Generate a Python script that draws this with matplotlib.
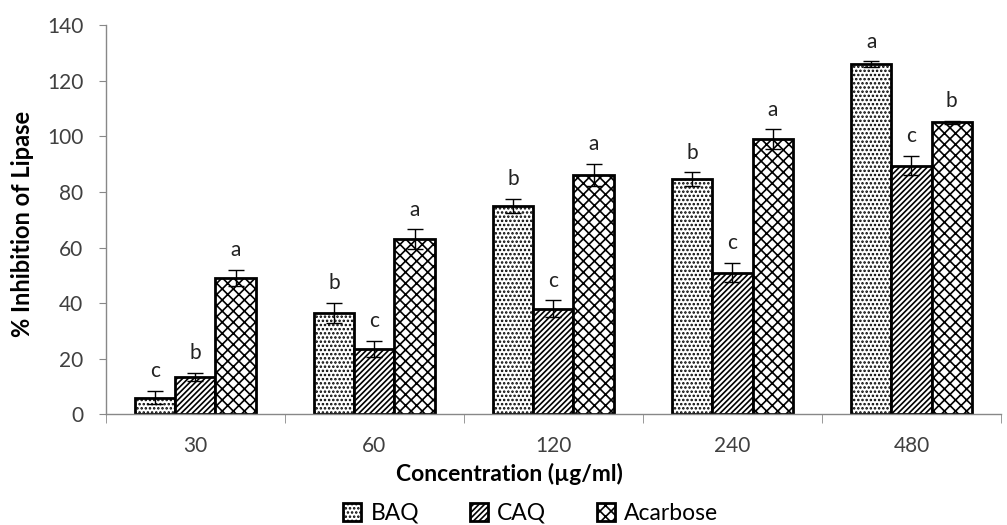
import numpy as np
import matplotlib
matplotlib.use("Agg")
from matplotlib import pyplot as plt

plt.rcParams['font.family'] = ['Lato', 'DejaVu Sans']
plt.rcParams['hatch.linewidth'] = 1.2

# data
concentrations = ['30', '60', '120', '240', '480']
series_names = ['BAQ', 'CAQ', 'Acarbose']
baq = [6, 36.5, 75, 84.5, 126]
caq = [13.5, 23.5, 38, 51, 89.5]
acarbose = [49, 63, 86, 99, 105]
baq_err = [2.5, 3.5, 2.5, 2.5, 1]
caq_err = [1.5, 3, 3, 3.5, 3.5]
acarbose_err = [3, 3.5, 4, 3.5, 0.5]
baq_letters = ['c', 'b', 'b', 'b', 'a']
caq_letters = ['b', 'c', 'c', 'c', 'c']
acarbose_letters = ['a', 'a', 'a', 'a', 'b']

values = [baq, caq, acarbose]
errors = [baq_err, caq_err, acarbose_err]
letters = [baq_letters, caq_letters, acarbose_letters]
hatches = ['....', '//////', 'xxx']

fig = plt.figure(figsize=(10.07, 5.25), dpi=100)
ax = fig.add_axes([0.105, 0.211, 0.889, 0.741])

x = np.arange(len(concentrations))
w = 0.225
for i in range(3):
    pos = x + (i - 1) * w
    ax.bar(pos, values[i], w, color='white', edgecolor='black', linewidth=2,
           hatch=hatches[i], label=series_names[i], zorder=2)
    ax.errorbar(pos, values[i], yerr=errors[i], fmt='none', ecolor='black',
                elinewidth=1, capsize=6, capthick=1, zorder=3)
    for j in range(len(concentrations)):
        ax.annotate(letters[i][j], (pos[j], values[i][j] + errors[i][j]),
                    xytext=(0, 7), textcoords='offset points', ha='center',
                    va='bottom', fontsize=15, color='#222222')

ax.set_xlim(-0.5, len(concentrations) - 0.5)
ax.set_ylim(0, 140)
ax.set_yticks(np.arange(0, 141, 20))
ax.set_xticks(x)
ax.set_xticklabels(concentrations)
ax.set_xticks(np.arange(-0.5, len(concentrations), 1), minor=True)
ax.tick_params(axis='x', which='major', length=0, pad=16, labelsize=15, labelcolor='#404040')
ax.tick_params(axis='x', which='minor', length=6.5, color='#888888', direction='out')
ax.tick_params(axis='y', length=5, pad=11, color='#888888', labelsize=15, labelcolor='#404040')

for s in ['top', 'right']:
    ax.spines[s].set_visible(False)
for s in ['left', 'bottom']:
    ax.spines[s].set_color('#888888')
    ax.spines[s].set_linewidth(1)

ax.set_xlabel('Concentration (µg/ml)', fontsize=16.5, fontweight='bold', labelpad=0)
ax.xaxis.set_label_coords(0.451, -0.125)
ax.set_ylabel('% Inhibition of Lipase', fontsize=17, fontweight='bold', labelpad=6)
ax.yaxis.set_label_coords(-0.080, 0.49)

leg = fig.legend(loc='center', bbox_to_anchor=(0.527, 0.022), ncol=3, frameon=False,
                 fontsize=16.5, handlelength=0.8, handleheight=0.8, columnspacing=2.2,
                 handletextpad=0.4)

fig.savefig('out.png', dpi=100)
